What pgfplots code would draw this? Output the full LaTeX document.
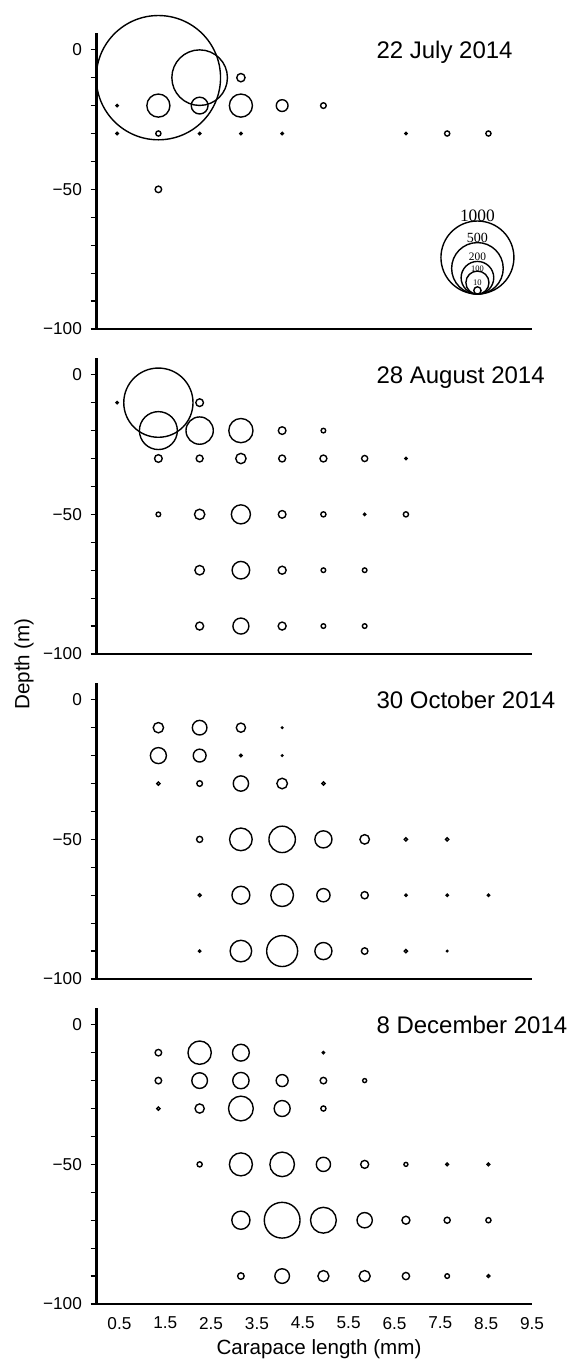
\documentclass[border=0pt]{standalone}
\usepackage{fontspec}
\setmainfont{Liberation Sans}
\newfontfamily\serifnum{Liberation Serif}
\usepackage{pgfplots}
\usepackage{pgfplotstable}
\pgfplotsset{compat=1.18}

\pgfplotstableread{
x y n
1.35 -10 2900
2.25 -10 580
3.15 -10 13
0.45 -20 1
1.35 -20 100
2.25 -20 53
3.15 -20 100
4.05 -20 26
4.95 -20 6
0.45 -30 1
1.35 -30 5
2.25 -30 1
3.15 -30 1
4.05 -30 1
6.75 -30 1
7.65 -30 5
8.55 -30 5
1.35 -50 8
}\dataA

\pgfplotstableread{
x y n
8.31 -74.4 1000
8.31 -78.3 500
8.31 -81.65 200
8.31 -83.4 100
8.31 -86.2 10
}\dataLeg

\pgfplotstableread{
x y n
0.45 -10 1
1.35 -10 900
2.25 -10 11
1.35 -20 270
2.25 -20 140
3.15 -20 110
4.05 -20 11
4.95 -20 4
1.35 -30 11
2.25 -30 9
3.15 -30 20
4.05 -30 9
4.95 -30 9
5.85 -30 7
6.75 -30 1
1.35 -50 4
2.25 -50 20
3.15 -50 68
4.05 -50 11
4.95 -50 5
5.85 -50 1
6.75 -50 5
2.25 -70 17
3.15 -70 58
4.05 -70 12
4.95 -70 4
5.85 -70 4
2.25 -90 12
3.15 -90 48
4.05 -90 12
4.95 -90 4
5.85 -90 4
}\dataB

\pgfplotstableread{
x y n
1.35 -10 20
2.25 -10 40
3.15 -10 16
4.05 -10 0.4
1.35 -20 48
2.25 -20 31
3.15 -20 1.2
4.05 -20 0.4
1.35 -30 2
2.25 -30 6
3.15 -30 44
4.05 -30 21
4.95 -30 2
2.25 -50 7
3.15 -50 96
4.05 -50 131
4.95 -50 55
5.85 -50 17
6.75 -50 2
7.65 -50 2
2.25 -70 1.5
3.15 -70 60
4.05 -70 96
4.95 -70 33
5.85 -70 10
6.75 -70 1
7.65 -70 1
8.55 -70 1
2.25 -90 1
3.15 -90 87
4.05 -90 180
4.95 -90 55
5.85 -90 8
6.75 -90 2
7.65 -90 0.4
}\dataC

\pgfplotstableread{
x y n
1.35 -10 8
2.25 -10 102
3.15 -10 53
4.95 -10 1
1.35 -20 8
2.25 -20 46
3.15 -20 50
4.05 -20 27
4.95 -20 8
5.85 -20 3
1.35 -30 2
2.25 -30 16
3.15 -30 115
4.05 -30 48
4.95 -30 5
2.25 -50 5
3.15 -50 99
4.05 -50 113
4.95 -50 38
5.85 -50 12
6.75 -50 3
7.65 -50 1.5
8.55 -50 1.5
3.15 -70 62
4.05 -70 240
4.95 -70 125
5.85 -70 44
6.75 -70 12
7.65 -70 7
8.55 -70 5
3.15 -90 8
4.05 -90 40
4.95 -90 23
5.85 -90 23
6.75 -90 10
7.65 -90 4
8.55 -90 1.5
}\dataD

\tikzset{ttl/.style={anchor=base west, font=\fontsize{12}{14}\selectfont, inner sep=0pt}}

\pgfplotsset{
  panel/.style={
    scale only axis, width=217.75pt, height=148pt,
    anchor=south west,
    xmin=0, xmax=9.5, ymin=-100, ymax=6,
    axis lines=left, axis line style={-, line width=1.1pt, black},
    xtick=\empty,
    xtick style={draw=none},
    ytick={-100,-50,0}, yticklabels={−100,−50,0},
    minor ytick={-90,-80,-70,-60,-40,-30,-20,-10},
    tick align=outside, major tick length=3pt, minor tick length=3pt,
    tick style={line width=0.6pt, black},
    tick label style={font=\fontsize{8.6}{10}\selectfont},
    yticklabel style={xshift=-0.8pt},
    clip=false,
  },
  bub/.style={only marks, mark=o, line width=0.7pt, black, scatter,
    scatter/use mapped color={draw=black, fill=none},
    visualization depends on={0.577*sqrt(\thisrow{n}) \as \rad},
    scatter/@pre marker code/.append style={/tikz/mark size=\rad}},
}

\begin{document}
\begin{tikzpicture}
\useasboundingbox (0,0) rectangle (284.5pt,680pt);

\begin{axis}[panel, at={(48.25pt,515.5pt)}]
\addplot[bub] table[x=x,y=y] {\dataA};
\addplot[bub] table[x=x,y=y] {\dataLeg};
\node[ttl] at (axis cs:6.10,-3.1) {22 July 2014};
\node[font=\serifnum\fontsize{8.7}{9}\selectfont, inner sep=0pt] at (axis cs:8.31,-59.5) {1000};
\node[font=\serifnum\fontsize{7}{8}\selectfont, inner sep=0pt] at (axis cs:8.31,-67.4) {500};
\node[font=\serifnum\fontsize{5.7}{6}\selectfont, inner sep=0pt] at (axis cs:8.31,-74.2) {200};
\node[font=\serifnum\fontsize{4.2}{5}\selectfont, inner sep=0pt] at (axis cs:8.31,-78.5) {100};
\node[font=\serifnum\fontsize{4.3}{5}\selectfont, inner sep=0pt] at (axis cs:8.31,-83.5) {10};
\end{axis}

\begin{axis}[panel, at={(48.25pt,353pt)}]
\addplot[bub] table[x=x,y=y] {\dataB};
\node[ttl] at (axis cs:6.10,-3.1) {28 August 2014};
\end{axis}

\begin{axis}[panel, at={(48.25pt,190.5pt)}]
\addplot[bub] table[x=x,y=y] {\dataC};
\node[ttl] at (axis cs:6.10,-3.1) {30 October 2014};
\end{axis}

\begin{axis}[panel, at={(48.25pt,28pt)},
  xtick={0.5,1.5,2.5,3.5,4.5,5.5,6.5,7.5,8.5,9.5},
  xticklabels={0.5,1.5,2.5,3.5,4.5,5.5,6.5,7.5,8.5,9.5}]
\addplot[bub] table[x=x,y=y] {\dataD};
\node[ttl] at (axis cs:6.10,-3.1) {8 December 2014};
\end{axis}

\node[anchor=base, font=\fontsize{10.3}{12}\selectfont] at (159.5pt,2.5pt) {Carapace length (mm)};
\node[rotate=90, font=\fontsize{10.3}{12}\selectfont] at (12pt,348pt) {Depth (m)};
\end{tikzpicture}
\end{document}
